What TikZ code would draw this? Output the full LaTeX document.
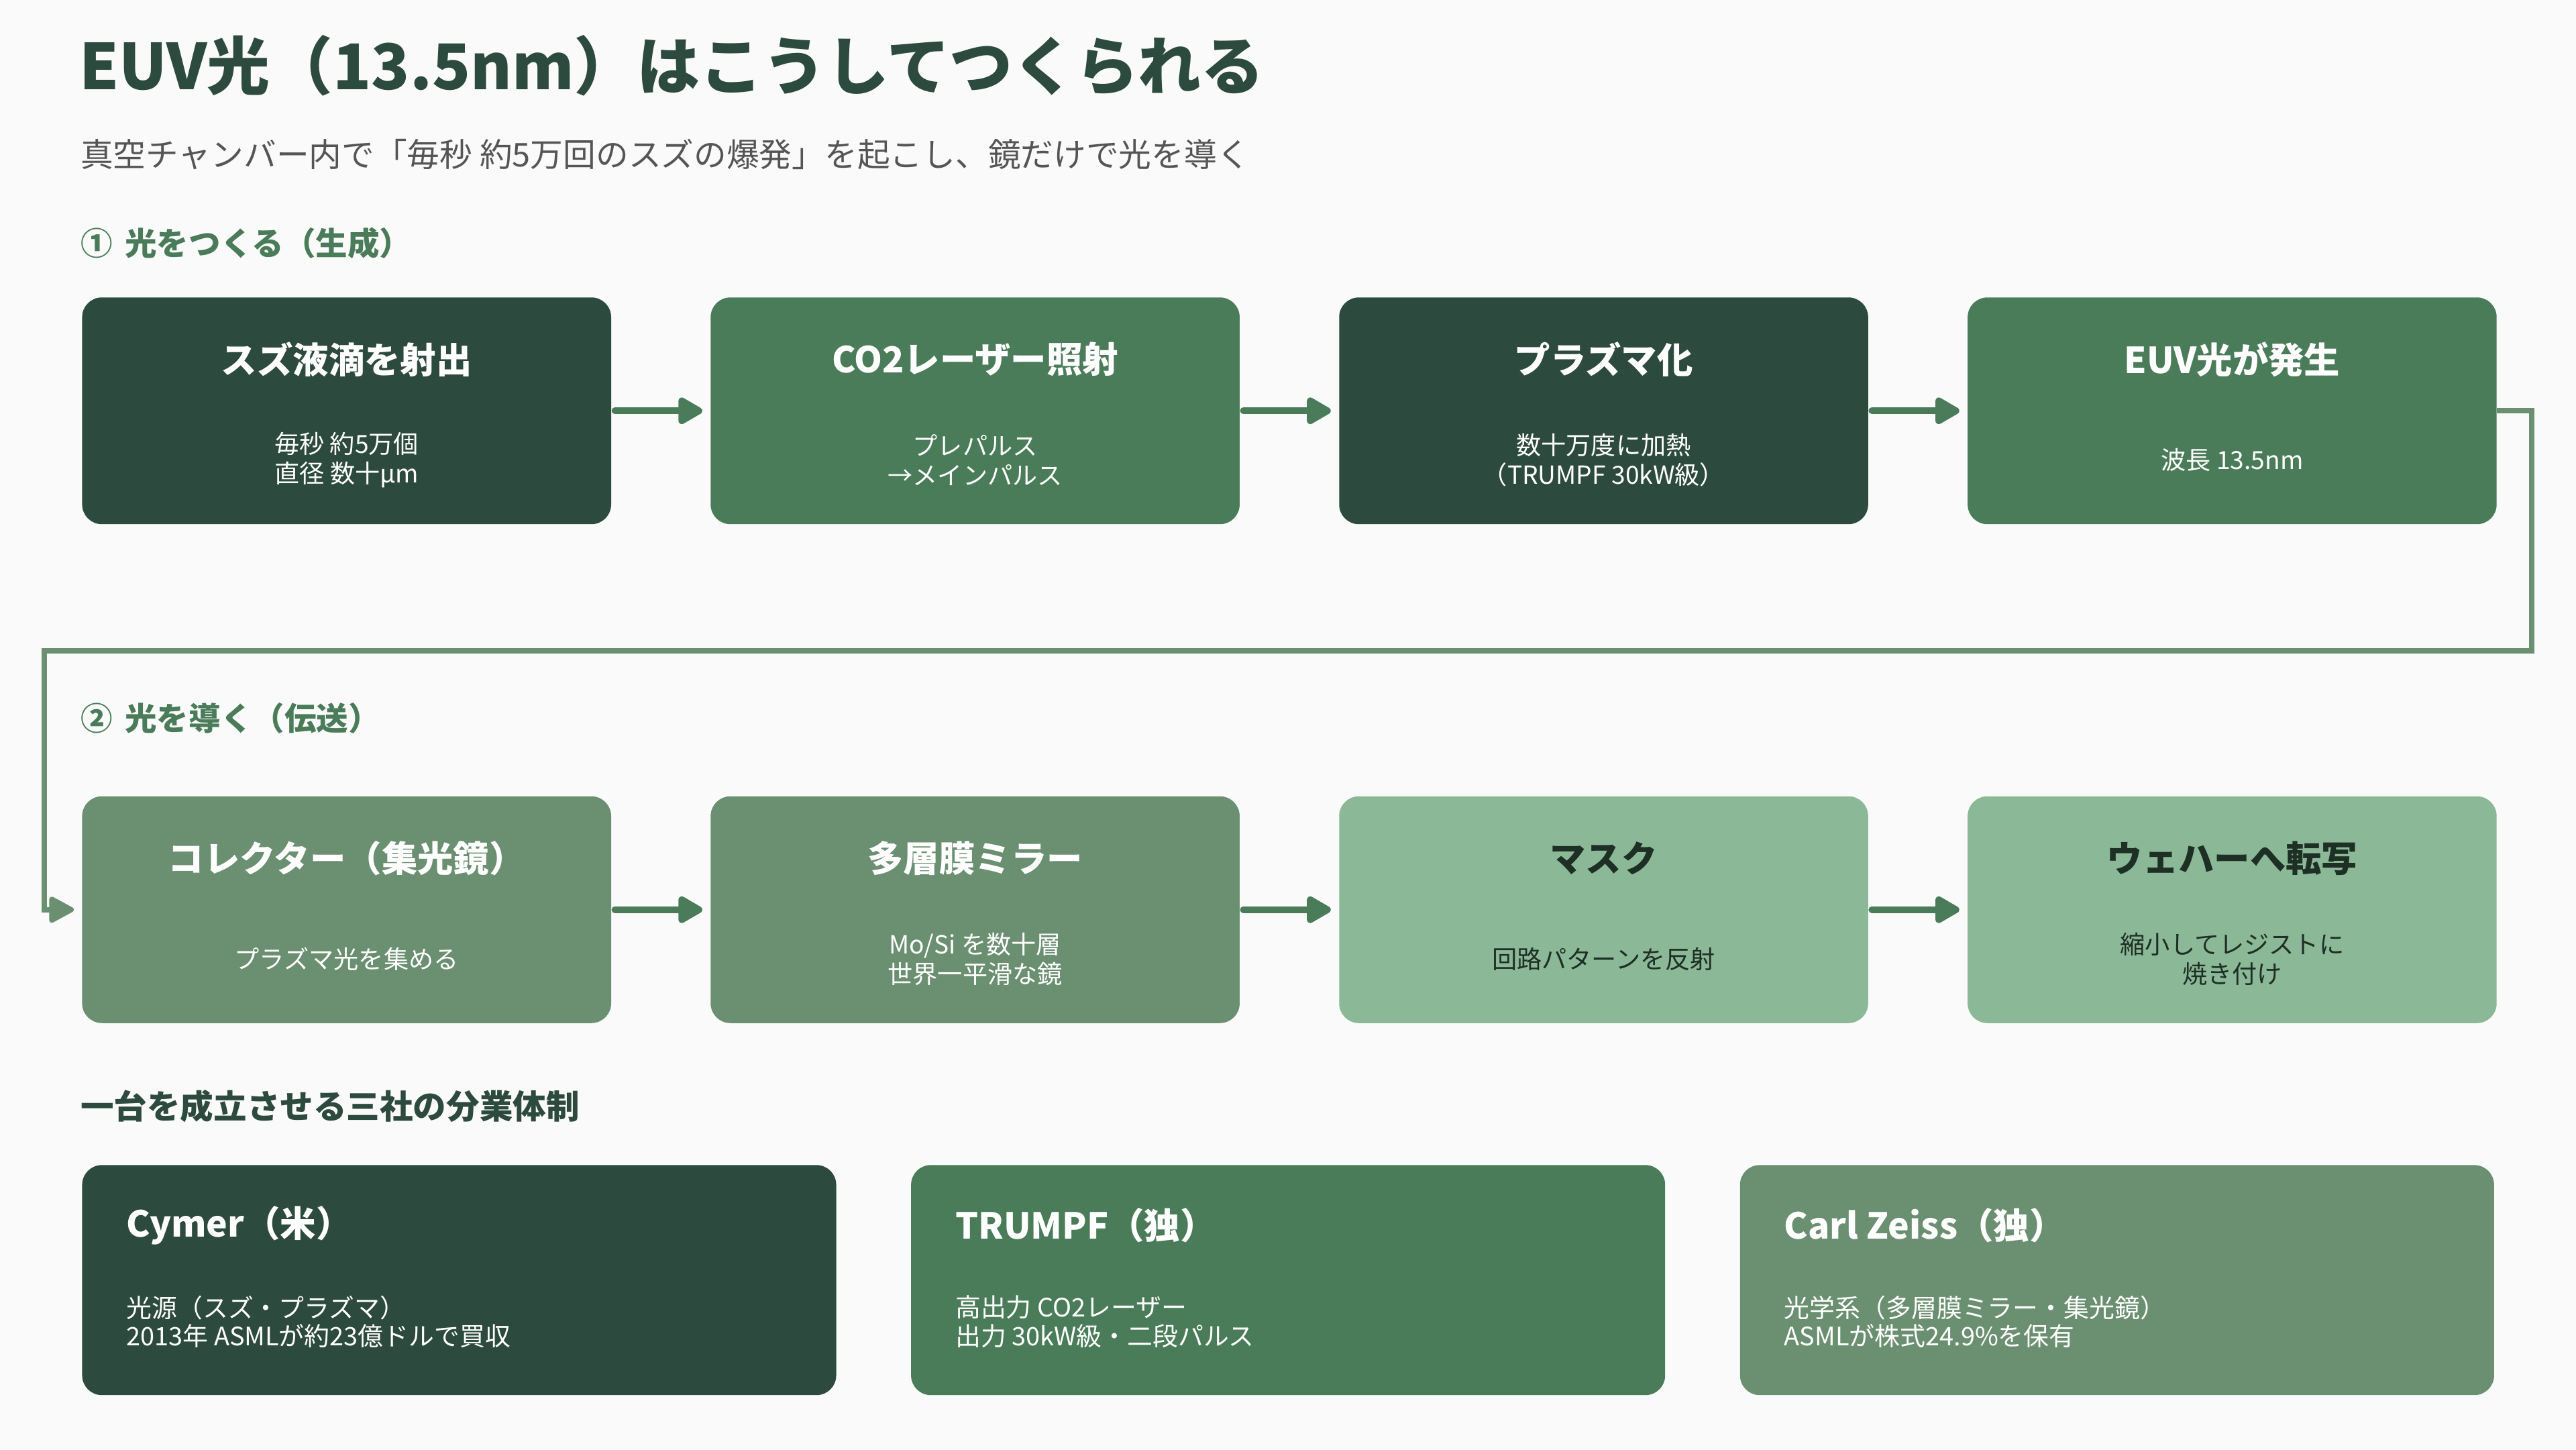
\documentclass[tikz,border=0pt]{standalone}
\usepackage{fontspec}
\setmainfont{Noto Sans CJK JP}
\usetikzlibrary{positioning,arrows.meta}

\definecolor{bgcol}{HTML}{FAFAFA}
\definecolor{deepgreen}{HTML}{2D4A3E}
\definecolor{midgreen}{HTML}{4A7C59}
\definecolor{sagegreen}{HTML}{6B8F71}
\definecolor{palegreen}{HTML}{8BB896}
\definecolor{inkgreen}{HTML}{1E2F26}
\definecolor{subgray}{HTML}{555555}

\tikzset{
  stepbox/.style={rounded corners=0.3cm, minimum width=8.05cm, minimum height=3.45cm, inner sep=0pt},
  steptitle/.style={font=\fontsize{15.5}{18}\selectfont\bfseries, inner sep=0pt},
  stepnote/.style={font=\fontsize{10.8}{12.8}\selectfont, align=center, inner sep=0pt},
  flow/.style={midgreen, line width=2.9pt, line cap=round, shorten <=0.05cm, shorten >=0.12cm,
    -{Triangle[length=0.42cm,width=0.45cm,round]}},
  loopback/.style={sagegreen, line width=2.2pt, shorten >=0.12cm,
    -{Triangle[length=0.42cm,width=0.43cm,round]}},
  firmbox/.style={rounded corners=0.3cm, minimum width=11.475cm, minimum height=3.5cm, inner sep=0pt},
  firmname/.style={font=\fontsize{15.5}{18}\selectfont\bfseries, text=white, anchor=west, inner sep=0pt},
  firmnote/.style={font=\fontsize{11}{12.4}\selectfont, text=white, align=left, anchor=west, inner sep=0pt},
  parthead/.style={font=\fontsize{13.8}{16}\selectfont\bfseries, anchor=west, inner sep=0pt}
}

\begin{document}
\begin{tikzpicture}
    \fill [bgcol] (0,0) rectangle (39.2,-22.05);

    % headings
    \node [anchor=west, inner sep=0pt, text=deepgreen, font=\fontsize{27.3}{33}\selectfont\bfseries]
      (title) at (1.2,-1.0) {EUV光（13.5nm）はこうしてつくられる};
    \node [anchor=west, inner sep=0pt, text=subgray, font=\fontsize{14.15}{17}\selectfont]
      (subtitle) at (1.22,-2.35) {真空チャンバー内で「毎秒 約5万回のスズの爆発」を起こし、鏡だけで光を導く};
    \node [parthead, text=midgreen] (make) at (1.22,-3.7) {①\, 光をつくる（生成）};
    \node [parthead, text=midgreen] (guide) at (1.22,-10.925) {②\, 光を導く（伝送）};
    \node [parthead, text=deepgreen, font=\fontsize{14.4}{17}\selectfont\bfseries] (firms) at (1.22,-16.825) {一台を成立させる三社の分業体制};

    % row 1
    \node [stepbox, fill=deepgreen] (s1) at (5.275,-6.25) {};
    \node [stepbox, fill=midgreen, right=1.5cm of s1] (s2) {};
    \node [stepbox, fill=deepgreen, right=1.5cm of s2] (s3) {};
    \node [stepbox, fill=midgreen, right=1.5cm of s3] (s4) {};

    \node [steptitle, text=white] (s1t) at ([yshift=-0.95cm]s1.north) {スズ液滴を射出};
    \node [stepnote, text=white] (s1n) at ([yshift=-0.75cm]s1.center) {毎秒 約5万個\\直径 数十μm};
    \node [steptitle, text=white] (s2t) at ([yshift=-0.95cm]s2.north) {CO2レーザー照射};
    \node [stepnote, text=white] (s2n) at ([yshift=-0.75cm]s2.center) {プレパルス\\→メインパルス};
    \node [steptitle, text=white] (s3t) at ([yshift=-0.95cm]s3.north) {プラズマ化};
    \node [stepnote, text=white] (s3n) at ([yshift=-0.75cm]s3.center) {数十万度に加熱\\（TRUMPF 30kW級）};
    \node [steptitle, text=white] (s4t) at ([yshift=-0.95cm]s4.north) {EUV光が発生};
    \node [stepnote, text=white] (s4n) at ([yshift=-0.75cm]s4.center) {波長 13.5nm};

    % row 2
    \node [stepbox, fill=sagegreen] (s5) at (5.275,-13.84) {};
    \node [stepbox, fill=sagegreen, right=1.5cm of s5] (s6) {};
    \node [stepbox, fill=palegreen, right=1.5cm of s6] (s7) {};
    \node [stepbox, fill=palegreen, right=1.5cm of s7] (s8) {};

    \node [steptitle, text=white] (s5t) at ([yshift=-0.95cm]s5.north) {コレクター（集光鏡）};
    \node [stepnote, text=white] (s5n) at ([yshift=-0.75cm]s5.center) {プラズマ光を集める};
    \node [steptitle, text=white] (s6t) at ([yshift=-0.95cm]s6.north) {多層膜ミラー};
    \node [stepnote, text=white] (s6n) at ([yshift=-0.75cm]s6.center) {Mo/Si を数十層\\世界一平滑な鏡};
    \node [steptitle, text=inkgreen] (s7t) at ([yshift=-0.95cm]s7.north) {マスク};
    \node [stepnote, text=inkgreen] (s7n) at ([yshift=-0.75cm]s7.center) {回路パターンを反射};
    \node [steptitle, text=inkgreen] (s8t) at ([yshift=-0.95cm]s8.north) {ウェハーへ転写};
    \node [stepnote, text=inkgreen] (s8n) at ([yshift=-0.75cm]s8.center) {縮小してレジストに\\焼き付け};

    % arrows
    \foreach \a/\b in {s1/s2, s2/s3, s3/s4, s5/s6, s6/s7, s7/s8}
      \draw [flow] (\a.east) -- (\b.west);

    \coordinate (turnR) at (38.525,-9.9);
    \coordinate (turnL) at (0.675,-9.9);
    \draw [loopback] (s4.east) -| (turnR) -- (turnL) |- (s5.west);

    % companies
    \node [firmbox, fill=deepgreen] (c1) at (6.9875,-19.475) {};
    \node [firmbox, fill=midgreen, right=1.125cm of c1] (c2) {};
    \node [firmbox, fill=sagegreen, right=1.125cm of c2] (c3) {};

    \node [firmname] (c1t) at ([xshift=0.675cm, yshift=-0.925cm]c1.north west) {Cymer（米）};
    \node [firmnote] (c1n) at ([xshift=0.675cm, yshift=-2.39cm]c1.north west) {光源（スズ・プラズマ）\\2013年 ASMLが約23億ドルで買収};
    \node [firmname] (c2t) at ([xshift=0.675cm, yshift=-0.925cm]c2.north west) {TRUMPF（独）};
    \node [firmnote] (c2n) at ([xshift=0.675cm, yshift=-2.39cm]c2.north west) {高出力 CO2レーザー\\出力 30kW級・二段パルス};
    \node [firmname] (c3t) at ([xshift=0.675cm, yshift=-0.925cm]c3.north west) {Carl Zeiss（独）};
    \node [firmnote] (c3n) at ([xshift=0.675cm, yshift=-2.39cm]c3.north west) {光学系（多層膜ミラー・集光鏡）\\ASMLが株式24.9\%を保有};
\end{tikzpicture}
\end{document}
